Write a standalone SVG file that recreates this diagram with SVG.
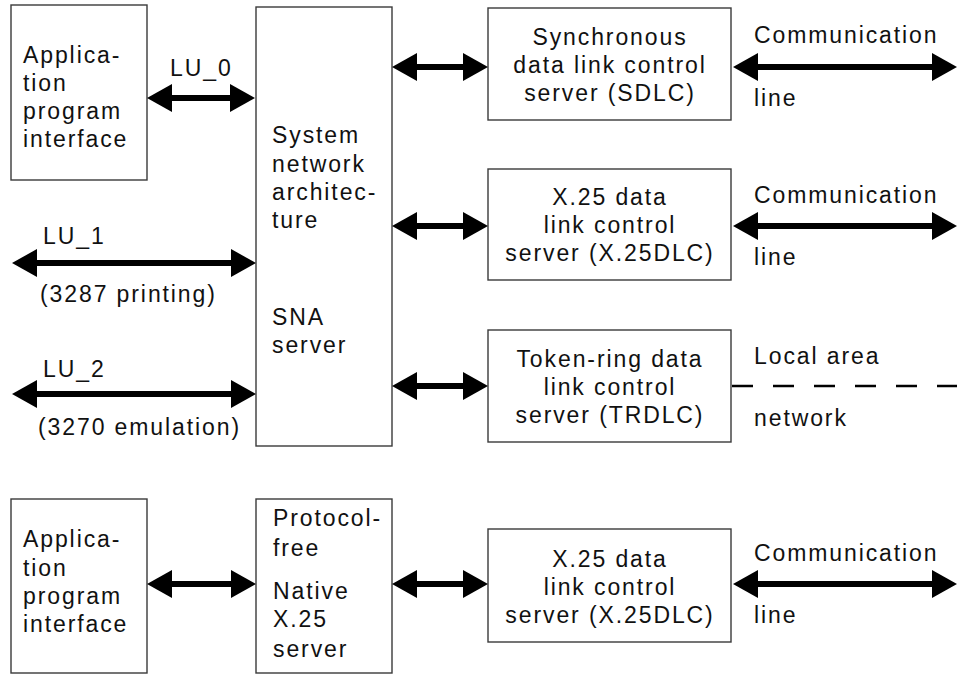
<svg xmlns="http://www.w3.org/2000/svg" width="963" height="674" viewBox="0 0 963 674">
  <style>
    .box { fill: #ffffff; stroke: #3a3a3a; stroke-width: 1.4; }
    text { font-family: "Liberation Sans", Arial, Helvetica, sans-serif; font-size: 23px; letter-spacing: 1.9px; fill: #111111; }
    .c { text-anchor: middle; }
    .arrow { stroke: #000000; stroke-width: 6; fill: none; marker-start: url(#head); marker-end: url(#head); }
    .lan { stroke: #000000; stroke-width: 2.5; stroke-dasharray: 21 20; fill: none; }
  </style>
  <defs>
    <marker id="head" markerUnits="userSpaceOnUse" markerWidth="25" markerHeight="28" viewBox="0 0 25 28" refX="15" refY="14" orient="auto-start-reverse">
      <path d="M0,0 L25,14 L0,28 Z" fill="#000000"/>
    </marker>
  </defs>
  <rect width="963" height="674" fill="#ffffff"/>

  <!-- upper stack: SNA -->
  <g id="api-sna">
    <rect class="box" x="11" y="5" width="136" height="175"/>
    <text x="23" y="63">Applica-</text>
    <text x="23" y="91">tion</text>
    <text x="23" y="119">program</text>
    <text x="23" y="147">interface</text>
  </g>

  <g id="sna-server">
    <rect class="box" x="256" y="7" width="136" height="439"/>
    <text x="272" y="143">System</text>
    <text x="272" y="172">network</text>
    <text x="272" y="200">architec-</text>
    <text x="272" y="228">ture</text>
    <text x="272" y="325">SNA</text>
    <text x="272" y="353">server</text>
  </g>

  <g id="sdlc">
    <rect class="box" x="488" y="8" width="243" height="112"/>
    <text class="c" x="610" y="45">Synchronous</text>
    <text class="c" x="610" y="73">data link control</text>
    <text class="c" x="610" y="101">server (SDLC)</text>
  </g>

  <g id="x25dlc">
    <rect class="box" x="488" y="169" width="243" height="111"/>
    <text class="c" x="610" y="205">X.25 data</text>
    <text class="c" x="610" y="233">link control</text>
    <text class="c" x="610" y="261">server (X.25DLC)</text>
  </g>

  <g id="trdlc">
    <rect class="box" x="488" y="330" width="243" height="112"/>
    <text class="c" x="610" y="367">Token-ring data</text>
    <text class="c" x="610" y="395">link control</text>
    <text class="c" x="610" y="423">server (TRDLC)</text>
  </g>

  <!-- lower stack: native X.25 -->
  <g id="api-x25">
    <rect class="box" x="11" y="499" width="136" height="174"/>
    <text x="23" y="547">Applica-</text>
    <text x="23" y="576">tion</text>
    <text x="23" y="604">program</text>
    <text x="23" y="632">interface</text>
  </g>

  <g id="native-x25">
    <rect class="box" x="256" y="499" width="136" height="174"/>
    <text x="273" y="526">Protocol-</text>
    <text x="273" y="556">free</text>
    <text x="273" y="599">Native</text>
    <text x="273" y="627">X.25</text>
    <text x="273" y="657">server</text>
  </g>

  <g id="x25dlc-native">
    <rect class="box" x="488" y="529" width="243" height="113"/>
    <text class="c" x="610" y="567">X.25 data</text>
    <text class="c" x="610" y="595">link control</text>
    <text class="c" x="610" y="623">server (X.25DLC)</text>
  </g>

  <!-- connectors -->
  <g id="connectors">
    <line class="arrow" x1="157" y1="98" x2="245" y2="98"/>
    <line class="arrow" x1="22" y1="263" x2="246" y2="263"/>
    <line class="arrow" x1="22" y1="394" x2="246" y2="394"/>
    <line class="arrow" x1="402" y1="67" x2="478" y2="67"/>
    <line class="arrow" x1="402" y1="226" x2="478" y2="226"/>
    <line class="arrow" x1="402" y1="386" x2="478" y2="386"/>
    <line class="arrow" x1="743" y1="67" x2="947" y2="67"/>
    <line class="arrow" x1="743" y1="226" x2="947" y2="226"/>
    <line class="lan" x1="732" y1="386" x2="957" y2="386"/>
    <line class="arrow" x1="157" y1="584" x2="246" y2="584"/>
    <line class="arrow" x1="402" y1="584" x2="478" y2="584"/>
    <line class="arrow" x1="743" y1="584" x2="947" y2="584"/>
  </g>

  <!-- connector labels -->
  <g id="labels">
    <text x="170" y="76">LU_0</text>
    <text x="43" y="244">LU_1</text>
    <text x="40" y="302">(3287 printing)</text>
    <text x="43" y="377">LU_2</text>
    <text x="38" y="435">(3270 emulation)</text>
    <text x="754" y="43">Communication</text>
    <text x="754" y="106">line</text>
    <text x="754" y="203">Communication</text>
    <text x="754" y="265">line</text>
    <text x="754" y="364">Local area</text>
    <text x="754" y="426">network</text>
    <text x="754" y="561">Communication</text>
    <text x="754" y="623">line</text>
  </g>
</svg>
